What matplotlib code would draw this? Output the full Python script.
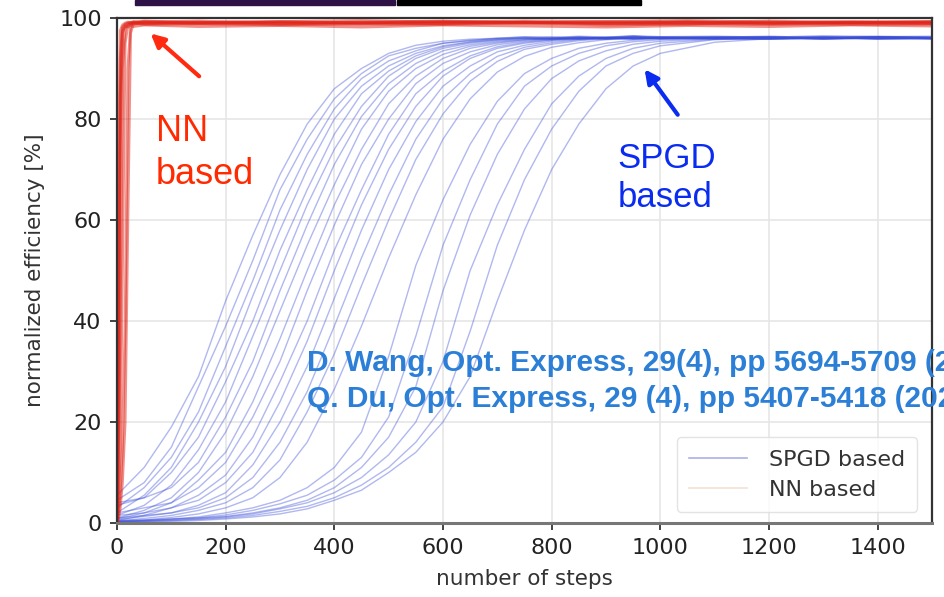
import matplotlib.pyplot as plt
from matplotlib.lines import Line2D
from matplotlib.patches import Rectangle

spgd_steps = [0, 50, 100, 150, 200, 250, 300, 350, 400, 450, 500, 550, 600, 650,
              700, 750, 800, 850, 900, 950, 1000, 1100, 1200, 1300, 1400, 1500]

spgd_curves = [
    [5.5, 11, 19, 29, 44, 57, 69, 79, 86, 90, 93, 94.6, 95.4, 95.8, 96, 96.3, 96.1, 96.4, 96.2, 96.5, 96.3, 96.4, 96.2, 96.5, 96.3, 96.4],
    [4.5, 8, 15, 27, 39, 52, 66, 76, 84, 89, 92.5, 94, 95, 95.6, 95.9, 96.0, 95.8, 96.1, 95.9, 96.2, 96.0, 96.1, 95.9, 96.0, 96.2, 95.9],
    [3, 7, 13, 22, 35, 48, 62, 73, 82, 88, 91.5, 93.5, 95, 95.5, 96, 96.2, 96.0, 96.3, 96.1, 96.4, 96.2, 96.3, 96.1, 96.2, 96.4, 96.1],
    [2, 5.5, 11, 20, 31, 45, 58, 70, 80, 86.5, 90.5, 93, 94.5, 95.3, 95.8, 96.0, 95.7, 96.1, 95.8, 96.0, 95.9, 96.0, 95.8, 96.1, 95.9, 96.0],
    [3.5, 5, 10, 17, 28, 40, 54, 66, 77, 85, 89.5, 92.5, 94.3, 95.2, 95.7, 96.1, 96.3, 96.0, 96.2, 96.4, 96.1, 96.2, 96.4, 96.1, 96.3, 96.2],
    [1.5, 3.5, 7.5, 14.5, 24, 37, 50, 63, 74, 82.5, 88.5, 92, 94, 95, 95.6, 95.9, 96.0, 95.8, 96.1, 95.9, 96.0, 95.8, 96.0, 95.9, 96.1, 95.9],
    [4, 5, 7, 12, 21, 32, 46, 59, 71, 80.5, 87, 91, 93.5, 94.7, 95.4, 95.8, 96.0, 96.2, 96.0, 96.3, 96.1, 96.2, 96.0, 96.3, 96.1, 96.2],
    [1, 2.5, 5, 10, 18, 29, 42, 55, 67, 78, 85.5, 90, 92.8, 94.4, 95.2, 95.7, 96.0, 95.8, 96.1, 95.9, 96.1, 96.0, 95.9, 96.1, 95.8, 96.0],
    [0.8, 2, 4, 8.5, 14, 24, 36.5, 50, 63, 74, 83, 88.5, 92, 94, 95, 95.6, 95.9, 96.1, 95.9, 96.2, 96.0, 96.1, 96.3, 96.0, 96.2, 96.1],
    [2, 3, 4, 7, 12, 21, 32, 46, 59, 71, 80, 87, 91, 93.3, 94.7, 95.4, 95.8, 96.0, 95.8, 96.1, 95.9, 96.0, 95.8, 96.1, 95.9, 96.0],
    [0.5, 1.5, 3, 5.5, 9.5, 17, 28, 40, 54, 66, 77, 85, 89.5, 92.5, 94.3, 95.2, 95.7, 96.0, 96.2, 96.0, 96.3, 96.1, 96.2, 96.0, 96.3, 96.1],
    [1.5, 2, 3, 4.5, 8, 14, 24, 36, 50, 63, 74, 82.5, 88.5, 92, 94, 95, 95.6, 95.9, 96.1, 95.8, 96.0, 95.9, 96.1, 95.8, 96.0, 95.9],
    [0.7, 1.3, 2, 3.5, 6, 11.5, 20, 31, 44.5, 58, 70, 79.5, 86.5, 90.5, 93.3, 94.6, 95.4, 95.8, 96.0, 96.2, 96.0, 96.2, 96.0, 96.3, 96.1, 96.2],
    [1, 1.5, 2, 3, 5, 9, 16, 26, 39, 52.5, 65, 76, 84, 89, 92.4, 94.2, 95.1, 95.7, 96.0, 95.8, 96.1, 95.9, 96.1, 95.9, 96.0, 95.8],
    [0.4, 0.9, 1.5, 2.5, 4, 7, 12.5, 22, 33.5, 47, 60, 72, 81, 87.5, 91.4, 93.8, 94.8, 95.5, 95.9, 96.1, 95.9, 96.1, 96.3, 96.0, 96.2, 96.1],
    [0.3, 0.6, 1.1, 1.8, 3, 5, 9, 16, 26.5, 39, 52.5, 65, 76, 84, 89.3, 92.4, 94.2, 95.1, 95.7, 96.0, 96.2, 96.0, 96.2, 95.9, 96.1, 96.0],
    [0.3, 0.5, 0.8, 1.2, 2, 3, 4.5, 7, 11, 18, 33, 51, 64, 75, 83.5, 89, 92, 94, 95, 95.6, 95.9, 96.1, 96.0, 96.2, 96.0, 96.1],
    [0.2, 0.4, 0.7, 1, 1.6, 2.5, 3.8, 5.5, 8.5, 13, 21, 37, 55, 68, 79, 86.5, 90.5, 93, 94.5, 95.3, 95.7, 96.0, 95.8, 96.1, 95.9, 96.0],
    [0.5, 0.6, 0.8, 1, 1.3, 2, 3, 4.5, 7, 11, 17, 27, 46, 61, 73, 82, 88, 91.5, 93.5, 94.8, 95.4, 95.9, 96.1, 95.9, 96.2, 96.0],
    [0.2, 0.3, 0.5, 0.8, 1.2, 1.8, 2.8, 4, 6, 9, 13.5, 20, 32, 50, 63, 74, 83, 88.5, 92, 94, 95, 95.8, 96.0, 95.8, 96.1, 95.9],
    [0.3, 0.4, 0.5, 0.7, 1, 1.5, 2.3, 3.3, 5, 7.5, 11, 16, 23, 38, 55, 68, 78, 85.5, 90.5, 93, 94.5, 95.7, 96.0, 96.2, 95.9, 96.1],
    [0.1, 0.2, 0.3, 0.5, 0.8, 1.2, 1.8, 2.8, 4.5, 6.5, 10, 14, 20, 29, 44, 58, 70, 79, 86, 90.5, 93, 95.2, 95.9, 96.1, 95.9, 96.0],
]

nn_steps = [0, 3, 6, 10, 15, 20, 25, 30, 50, 150, 300, 450, 600, 750, 900, 1050, 1200, 1350, 1500]

nn_curves = [
    [0, 70, 97.5, 98.6, 99.0, 99.2, 98.9, 99.1, 99.3, 98.9, 99.2, 99.0, 99.3, 99.1, 98.9, 99.2, 99.0, 99.3, 99.1],
    [0, 45, 92, 98.2, 98.8, 99.0, 99.2, 98.8, 99.0, 99.2, 98.8, 99.1, 98.9, 99.2, 99.0, 98.8, 99.2, 99.0, 98.9],
    [0, 20, 75, 97, 98.5, 98.9, 99.1, 99.3, 98.9, 99.1, 99.3, 99.0, 99.2, 98.9, 99.1, 99.3, 98.9, 99.1, 99.2],
    [0, 10, 40, 90, 98, 98.6, 98.8, 99.0, 98.7, 98.9, 98.6, 98.9, 98.7, 99.0, 98.6, 98.8, 98.9, 98.7, 98.8],
    [0, 5, 15, 50, 95, 98.5, 99.0, 99.2, 99.4, 99.1, 99.3, 99.5, 99.2, 99.4, 99.3, 99.1, 99.4, 99.2, 99.3],
    [0, 2, 6, 15, 40, 90, 98.5, 99.0, 99.2, 99.4, 99.0, 99.2, 99.4, 99.1, 99.3, 99.5, 99.2, 99.0, 99.3],
    [0, 1, 3, 8, 20, 60, 97, 98.8, 99.1, 98.8, 99.0, 98.7, 99.0, 99.2, 98.8, 99.0, 98.7, 99.1, 98.9],
    [0, 30, 85, 97.5, 98.4, 98.2, 98.5, 98.3, 98.6, 98.3, 98.5, 98.2, 98.6, 98.4, 98.2, 98.5, 98.3, 98.6, 98.4],
]

x_ticks = [0, 200, 400, 600, 800, 1000, 1200, 1400]
y_ticks = [0, 20, 40, 60, 80, 100]

refs = ["D. Wang, Opt. Express, 29(4), pp 5694-5709 (2021)",
        "Q. Du, Opt. Express, 29 (4), pp 5407-5418 (2021)"]

fig = plt.figure(figsize=(9.44, 5.97), dpi=100)
ax = fig.add_axes([117 / 944, 1 - 523 / 597, 815 / 944, 505 / 597])

for c in spgd_curves:
    ax.plot(spgd_steps, c, color="#3a4ed8", alpha=0.4, lw=1.0)
for c in nn_curves:
    ax.plot(nn_steps, c, color="#e02418", alpha=0.5, lw=2.0)

ax.set_xlim(0, 1500)
ax.set_ylim(0, 100)
ax.set_xticks(x_ticks)
ax.set_yticks(y_ticks)
ax.tick_params(labelsize=16, colors="#222222", length=5, width=1.2, pad=6)
ax.grid(True, color="#e6e6e6", lw=1.2)
ax.set_axisbelow(True)
for side in ["left", "right", "top"]:
    ax.spines[side].set_color("#333333")
    ax.spines[side].set_linewidth(1.6)
ax.spines["bottom"].set_color("#777777")
ax.spines["bottom"].set_linewidth(2.2)

ax.set_xlabel("number of steps", fontsize=15.5, color="#333333", labelpad=8)
ax.set_ylabel("normalized efficiency [%]", fontsize=15.5, color="#333333", labelpad=10)

handles = [Line2D([], [], color="#8890e0", lw=1.2, alpha=0.7),
           Line2D([], [], color="#f0d8c8", lw=1.2, alpha=0.8)]
leg = ax.legend(handles, ["SPGD based", "NN based"], loc="lower right",
                fontsize=16, frameon=True, borderpad=0.55, handlelength=2.6,
                handletextpad=1.0, labelspacing=0.45, borderaxespad=0,
                bbox_to_anchor=(0.982, 0.022))
leg.get_frame().set_edgecolor("#dddddd")
for t in leg.get_texts():
    t.set_color("#333333")

# annotations
ax.annotate("", xy=(58, 97.3), xytext=(155, 88.1),
            arrowprops=dict(arrowstyle="-|>,head_width=0.4,head_length=0.8",
                            color="#ff2a10", lw=3))
ax.text(72, 73.3, "NN\nbased", color="#ff2a00", fontsize=26,
        family="Liberation Sans", linespacing=1.3, va="center")
ax.annotate("", xy=(968, 90.3), xytext=(1035, 80.4),
            arrowprops=dict(arrowstyle="-|>,head_width=0.4,head_length=0.8",
                            color="#0a2cf0", lw=3))
ax.text(921, 68.3, "SPGD\nbased", color="#0a2cf0", fontsize=25,
        family="Liberation Sans", linespacing=1.25, va="center")

# citations run past the right edge, as on the slide
fig.text(307 / 944, 1 - 371 / 597, refs[0], color="#2b7fd6", fontsize=21.5,
         family="Liberation Sans", weight="bold", va="baseline")
fig.text(307 / 944, 1 - 407 / 597, refs[1], color="#2b7fd6", fontsize=21.5,
         family="Liberation Sans", weight="bold", va="baseline")

# slide bars at the top edge
fig.patches.append(Rectangle((135 / 944, 1 - 5 / 597), 260 / 944, 5 / 597,
                             transform=fig.transFigure, color="#2e1245"))
fig.patches.append(Rectangle((397 / 944, 1 - 5 / 597), 244 / 944, 5 / 597,
                             transform=fig.transFigure, color="#000000"))

fig.savefig("out.png", dpi=100)
